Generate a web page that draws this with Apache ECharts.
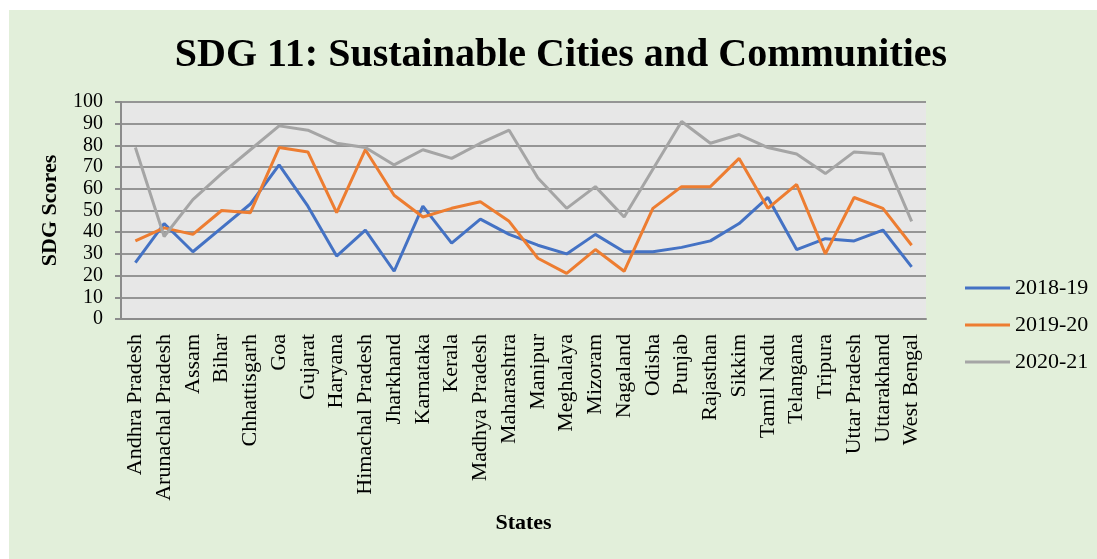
<!DOCTYPE html>
<html>
<head>
<meta charset="utf-8">
<script src="https://cdn.jsdelivr.net/npm/echarts@6/dist/echarts.min.js"></script>
<style>
html,body{margin:0;padding:0;background:#ffffff;width:1097px;height:559px;overflow:hidden;}
#bg{position:absolute;left:9px;top:10px;width:1088px;height:549px;background:#e2efda;}
#c{position:absolute;left:0;top:0;width:1097px;height:559px;}
</style>
</head>
<body>
<div id="bg"></div>
<div id="c"></div>
<script>
const titleText = 'SDG 11: Sustainable Cities and Communities';
const states = ['Andhra Pradesh','Arunachal Pradesh','Assam','Bihar','Chhattisgarh','Goa','Gujarat','Haryana','Himachal Pradesh','Jharkhand','Karnataka','Kerala','Madhya Pradesh','Maharashtra','Manipur','Meghalaya','Mizoram','Nagaland','Odisha','Punjab','Rajasthan','Sikkim','Tamil Nadu','Telangana','Tripura','Uttar Pradesh','Uttarakhand','West Bengal'];
const s2018 = [26,44,31,42,53,71,52,29,41,22,52,35,46,39,34,30,39,31,31,33,36,44,56,32,37,36,41,24];
const s2019 = [36,42,39,50,49,79,77,49,78,57,47,51,54,45,28,21,32,22,51,61,61,74,51,62,30,56,51,34];
const s2020 = [79,38,55,67,78,89,87,81,79,71,78,74,81,87,65,51,61,47,69,91,81,85,79,76,67,77,76,45];
const seriesNames = ['2018-19','2019-20','2020-21'];
const colors = ['#4472C4','#ED7D31','#A5A5A5'];

const chart = echarts.init(document.getElementById('c'), null, {renderer:'canvas'});
const font = 'Liberation Serif';
chart.setOption({
  backgroundColor: 'transparent',
  animation: false,
  color: colors,
  title: {
    text: titleText,
    left: 556, top: 31, textAlign: 'center',
    textStyle: {fontFamily: font, fontWeight: 'bold', fontSize: 40, color: '#000'}
  },
  legend: {
    orient: 'vertical', left: 960, top: 272,
    icon: 'rect', itemWidth: 45, itemHeight: 3, itemGap: 15,
    textStyle: {fontFamily: font, fontSize: 22, lineHeight: 22, color: '#000', padding: [0,0,0,0]},
    data: seriesNames
  },
  grid: {
    left: 121, right: 171, top: 102, bottom: 240,
    show: true, backgroundColor: '#e7e7e7', borderWidth: 0
  },
  xAxis: {
    type: 'category', data: states, boundaryGap: true,
    name: 'States', nameLocation: 'middle', nameGap: 193,
    nameTextStyle: {fontFamily: font, fontWeight: 'bold', fontSize: 22, color: '#000'},
    axisLine: {show: true, lineStyle: {color: '#8c8c8c', width: 2}},
    axisTick: {show: false},
    axisLabel: {rotate: 90, interval: 0, margin: 15, fontFamily: font, fontSize: 22, color: '#000'},
    splitLine: {show: false}
  },
  yAxis: {
    type: 'value', min: 0, max: 100, interval: 10,
    name: 'SDG Scores', nameLocation: 'middle', nameGap: 60, nameRotate: 90,
    nameTextStyle: {fontFamily: font, fontWeight: 'bold', fontSize: 22, color: '#000'},
    axisLine: {show: true, lineStyle: {color: '#8c8c8c', width: 2}},
    axisTick: {show: true, length: 6, lineStyle: {color: '#8c8c8c', width: 2}},
    axisLabel: {margin: 18, fontFamily: font, fontSize: 20, lineHeight: 18, color: '#000',
      showMinLabel: true, showMaxLabel: true, hideOverlap: false},
    splitLine: {show: true, lineStyle: {color: '#959595', width: 2}}
  },
  series: [
    {name: seriesNames[0], type: 'line', data: s2018, showSymbol: false, symbol: 'none', lineStyle: {width: 3, color: colors[0]}, itemStyle: {color: colors[0]}},
    {name: seriesNames[1], type: 'line', data: s2019, showSymbol: false, symbol: 'none', lineStyle: {width: 3, color: colors[1]}, itemStyle: {color: colors[1]}},
    {name: seriesNames[2], type: 'line', data: s2020, showSymbol: false, symbol: 'none', lineStyle: {width: 3, color: colors[2]}, itemStyle: {color: colors[2]}}
  ]
});
</script>
</body>
</html>
